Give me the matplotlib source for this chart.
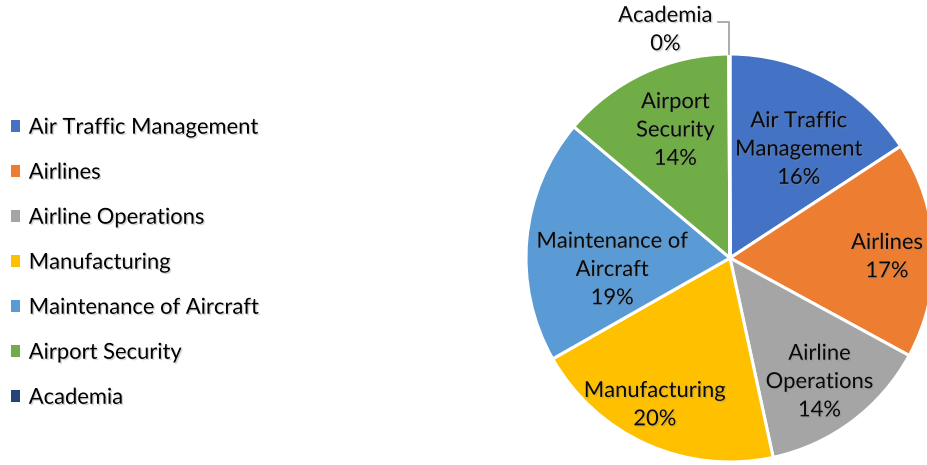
import numpy as np
import matplotlib.pyplot as plt
import matplotlib.patheffects as pe

# donnees (en %)
categories = ["Air Traffic Management", "Airlines", "Airline Operations", "Manufacturing",
              "Maintenance of Aircraft", "Airport Security", "Academia"]
slice_labels = ["Air Traffic\nManagement", "Airlines", "Airline\nOperations", "Manufacturing",
                "Maintenance of\nAircraft", "Airport\nSecurity", "Academia"]
valeurs = [15.8, 17.2, 13.7, 20.2, 19.4, 13.8, 0.1]
couleurs = ["#4472C4", "#ED7D31", "#A5A5A5", "#FFC000", "#5B9BD5", "#70AD47", "#264478"]

plt.rcParams['font.family'] = ['Lato', 'DejaVu Sans']
ombre = [pe.SimplePatchShadow(offset=(1, -1), shadow_rgbFace='#888888', alpha=0.35), pe.Normal()]
taille = 15.8

W, H = 928, 465
fig = plt.figure(figsize=(W/100, H/100), dpi=100)
ax = fig.add_axes([0, 0, 1, 1])

centre = (730, H-258)
rayon = 204
wedges, _ = ax.pie(valeurs, colors=couleurs, startangle=90, counterclock=False,
                   center=centre, radius=rayon,
                   wedgeprops=dict(edgecolor='white', linewidth=2.2))
ax.set_xlim(0, W)
ax.set_ylim(0, H)
ax.set_aspect('equal')
ax.axis('off')

# distance radiale des etiquettes (fraction du rayon) et decalage angulaire
dist = [0.63, 0.77, 0.75, 0.81, 0.58, 0.68]
decal = [-4, -2, -1, -3, 11, -2]
total = sum(valeurs)
for w, lab, v, d, da in zip(wedges[:-1], slice_labels[:-1], valeurs[:-1], dist, decal):
    ang = np.deg2rad((w.theta1 + w.theta2)/2 + da)
    x = centre[0] + d*rayon*np.cos(ang)
    y = centre[1] + d*rayon*np.sin(ang)
    t = ax.text(x, y, f"{lab}\n{round(v/total*100):.0f}%", ha='center', va='center',
                fontsize=taille, color='#0a0a0a', linespacing=1.52)
    t.set_path_effects(ombre)

# Academia : etiquette exterieure avec trait de rappel
w = wedges[-1]
ang = np.deg2rad((w.theta1 + w.theta2)/2)
px = centre[0] + rayon*np.cos(ang)
py = centre[1] + rayon*np.sin(ang)
ax.plot([px, px, px-11], [py, py+32, py+32], color='#A5A5A5', lw=1.3)
t = ax.text(px-64, py+24, f"{slice_labels[-1]}\n{round(valeurs[-1]/total*100):.0f}%",
            ha='center', va='center', fontsize=taille, color='#0a0a0a', linespacing=1.52)
t.set_path_effects(ombre)

leg = ax.legend(wedges, categories, loc='center left', bbox_to_anchor=(0.0, 0.435),
                frameon=False, fontsize=taille, handlelength=0.45, handleheight=0.45,
                handletextpad=0.38, labelspacing=1.14, borderaxespad=0.08)
for h in leg.legend_handles:
    h.set_edgecolor('none')
for t in leg.get_texts():
    t.set_path_effects(ombre)

fig.savefig('out.png', dpi=100)
